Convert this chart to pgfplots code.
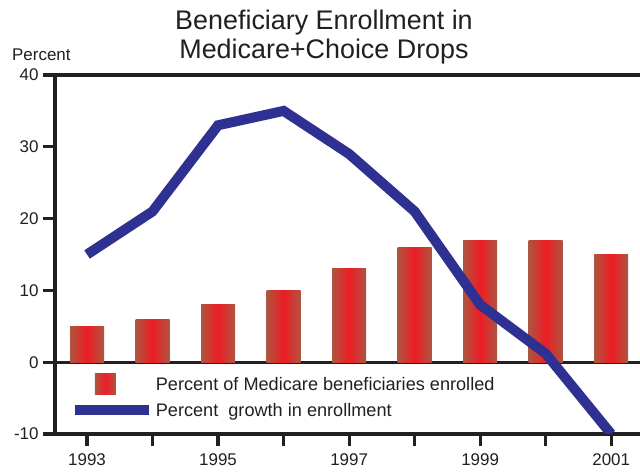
\documentclass[border=0pt]{standalone}
\usepackage{fontspec}
\setmainfont{Liberation Sans}
\usepackage{pgfplots}
\pgfplotsset{compat=1.18}
\definecolor{barEdge}{HTML}{AE5540}
\definecolor{barMid}{HTML}{EE1C25}
\definecolor{legBar}{HTML}{D84B3B}
\definecolor{navy}{HTML}{2E3192}
\definecolor{ink}{HTML}{231F20}
\pgfplotsset{barsty/.style={ybar, bar width=34bp, draw=none, left color=barEdge, right color=barEdge, middle color=barMid}}
\begin{document}
\begin{tikzpicture}
\useasboundingbox (-55bp,-40bp) rectangle (585bp,434bp);
\begin{axis}[
  scale only axis, width=585bp, height=359bp,
  xmin=1992.511, xmax=2001.44, ymin=-10, ymax=40,
  axis x line*=bottom, axis y line*=left,
  axis line style={ink, line width=3.2bp},
  xtick={1993,1994,1995,1996,1997,1998,1999,2000,2001},
  xticklabels={1993,,1995,,1997,,1999,,2001},
  ytick={-10,0,10,20,30,40},
  yticklabels={-10,0,10,20,30,40},
  tick align=outside, major tick length=12bp,
  tick style={ink, line width=3.2bp},
  extra y ticks={0,40}, extra y tick labels={},
  extra y tick style={grid=major, major grid style={ink, line width=3.2bp}},
  ticklabel style={font=\fontsize{17}{20}\selectfont, text=ink},
  xticklabel style={yshift=-4bp},
  yticklabel style={xshift=-1bp},
  legend style={at={(axis cs:1992.735,-1.6)}, anchor=north west, draw=none, fill=none,
    font=\fontsize{18.2}{21}\selectfont, text=ink, row sep=6bp, inner sep=0pt},
  legend cell align=left,
]
\addplot[barsty,
  legend image code/.code={\path (0bp,0bp) -- (74bp,0bp); \fill[legBar] (20bp,-10.5bp) rectangle (41bp,10.5bp);}]
  coordinates {(1993,5)};
\addlegendentry{Percent of Medicare beneficiaries enrolled}
\addplot[barsty, forget plot] coordinates {(1994,6)};
\addplot[barsty, forget plot] coordinates {(1995,8)};
\addplot[barsty, forget plot] coordinates {(1996,10)};
\addplot[barsty, forget plot] coordinates {(1997,13)};
\addplot[barsty, forget plot] coordinates {(1998,16)};
\addplot[barsty, forget plot] coordinates {(1999,17)};
\addplot[barsty, forget plot] coordinates {(2000,17)};
\addplot[barsty, forget plot] coordinates {(2001,15)};
\addplot[navy, line width=10bp, mark=none,
  legend image code/.code={\path (0bp,0bp) -- (74bp,0bp); \draw[navy, line width=8bp] (0bp,0bp) -- (60bp,0bp);}]
  coordinates {(1993,15) (1994,21) (1995,33) (1996,35) (1997,29) (1998,21) (1999,8) (2000,1.2) (2001,-10)};
\addlegendentry{Percent\ \ growth in enrollment}
\end{axis}
\node[align=center, font=\fontsize{27}{29.5}\selectfont, text=ink, inner sep=0pt, anchor=north] at (269bp,424.5bp) {Beneficiary Enrollment in\\Medicare+Choice Drops};
\node[font=\fontsize{17}{20}\selectfont, text=ink, inner sep=0pt, anchor=base west] at (-43bp,373bp) {Percent};
\end{tikzpicture}
\end{document}
